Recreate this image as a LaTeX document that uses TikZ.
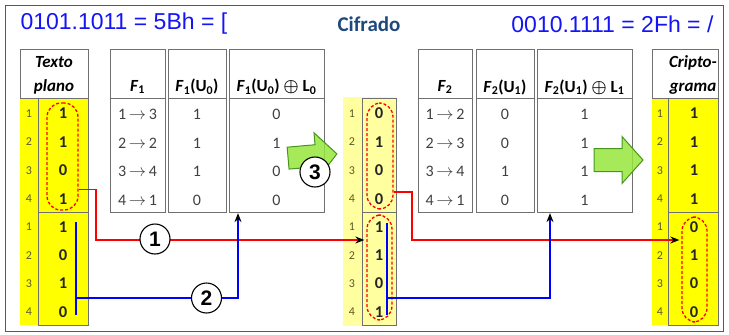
\documentclass[tikz,border=0pt]{standalone}
\usepackage{amsmath}
\usepackage{fontspec}
\setmainfont{Carlito}
\newfontfamily\arialfont{Liberation Sans}
\usetikzlibrary{arrows.meta,calc}

\definecolor{boxgray}{RGB}{112,112,112}
\definecolor{framegray}{RGB}{80,90,110}
\definecolor{brightyellow}{RGB}{255,255,0}
\definecolor{paleyellow}{RGB}{255,255,160}
\definecolor{titleblue}{RGB}{20,20,245}
\definecolor{headblue}{RGB}{31,73,125}
\definecolor{rownum}{RGB}{90,90,40}
\definecolor{valgray}{RGB}{64,64,64}
\definecolor{arrowgreen}{RGB}{150,230,60}
\definecolor{arrowedge}{RGB}{70,150,30}

\begin{document}
\begin{tikzpicture}[x=1pt,y=-1pt,>=Stealth,
    box/.style={draw=boxgray,line width=1.1pt,anchor=north west,inner sep=0pt},
    hdr/.style={font=\fontsize{17}{24}\selectfont\bfseries,align=center,inner sep=0pt},
    val/.style={font=\fontsize{16}{16}\selectfont,text=valgray,inner sep=0pt},
    bval/.style={font=\fontsize{16.5}{16}\selectfont\bfseries,text=black!85,inner sep=0pt},
    rnum/.style={font=\fontsize{12}{12}\selectfont,text=rownum,inner sep=0pt},
    oval/.style={draw=red,line width=1.3pt,dash pattern=on 3pt off 2pt,rounded corners=14pt,inner sep=0pt},
    redln/.style={draw=red,line width=1.4pt},
    blueln/.style={draw=blue,line width=1.4pt},
    tip/.style={-{Stealth[length=9pt,width=7pt,color=black]}},
    numcirc/.style={circle,draw,line width=1.1pt,fill=white,minimum size=30pt,inner sep=0pt,
      font=\arialfont\fontsize{21}{21}\selectfont\bfseries},
    grnarrow/.style={fill=arrowgreen,fill opacity=0.85,draw=arrowedge,line width=1pt,line join=miter}]
  \useasboundingbox (0,0) rectangle (729,335);
  \draw[framegray,line width=0.8pt] (5,5) rectangle (723,331);
  % titles
  \node[anchor=west,text=titleblue,font=\arialfont\fontsize{23}{23}\selectfont] (ttl) at (17,24) {0101.1011 = 5Bh = [};
  \node[anchor=east,text=titleblue,font=\arialfont\fontsize{23}{23}\selectfont] (ttr) at (717,24) {0010.1111 = 2Fh = /};
  \node[text=headblue,font=\fontsize{21}{21}\selectfont\bfseries] (cif) at (369,24) {Cifrado};
  % yellow columns
  \fill[brightyellow] (20,98) rectangle (88,325);
  \fill[paleyellow] (343,97) rectangle (396,326);
  \fill[brightyellow] (652,98) rectangle (718,325);
  \node[box,minimum width=68pt,minimum height=49pt] (tph) at (20,49) {};
  \node[box,fill=brightyellow,minimum width=50pt,minimum height=114pt] (tpt) at (38,98) {};
  \node[box,fill=brightyellow,minimum width=50pt,minimum height=113pt] (tpb) at (38,212) {};
  \node[box,fill=paleyellow,minimum width=34pt,minimum height=114pt] (mdt) at (362,98) {};
  \node[box,fill=paleyellow,minimum width=34pt,minimum height=113pt] (mdb) at (362,212) {};
  \node[box,minimum width=66pt,minimum height=49pt] (crh) at (652,49) {};
  \node[box,fill=brightyellow,minimum width=50pt,minimum height=114pt] (crt) at (668,98) {};
  \node[box,fill=brightyellow,minimum width=50pt,minimum height=113pt] (crb) at (668,212) {};
  % tables F1 and F2
  \foreach \name/\xa/\w in {f1/110/55,f1u/168/58,f1x/229/95,f2/418/54,f2u/476/58,f2x/537/95}{
    \node[box,minimum width=\w pt,minimum height=49pt] (\name h) at (\xa,49) {};
    \node[box,minimum width=\w pt,minimum height=114pt] (\name b) at (\xa,98) {};
  }
  \node[hdr] (tphl) at (54,75) {\itshape Texto\\\itshape plano};
  \node[hdr] (crhl) at (693,75) {\itshape Cripto-\\\itshape grama};
  \node[hdr] (f1l) at (137.5,87) {\textit{F}\textsubscript{1}};
  \node[hdr] (f1ul) at (197,87) {\textit{F}\textsubscript{1}(U\textsubscript{0})};
  \node[hdr] (f1xl) at (276.5,87) {\textit{F}\textsubscript{1}(U\textsubscript{0}) $\boldsymbol{\oplus}$ L\textsubscript{0}};
  \node[hdr] (f2l) at (445,87) {\textit{F}\textsubscript{2}};
  \node[hdr] (f2ul) at (505,87) {\textit{F}\textsubscript{2}(U\textsubscript{1})};
  \node[hdr] (f2xl) at (584.5,87) {\textit{F}\textsubscript{2}(U\textsubscript{1}) $\boldsymbol{\oplus}$ L\textsubscript{1}};
  % row numbers
  \foreach \xr/\c in {29/tp,352/md,660/cr}{
    \foreach \i in {1,...,4}{
      \node[rnum] (\c n\i) at (\xr,{84.75+28.5*\i}) {\i};
      \node[rnum] (\c m\i) at (\xr,{198.875+28.25*\i}) {\i};
    }
  }
  % values
  \foreach \v [count=\i] in {1,1,0,1} \node[bval] (tpv\i) at (63,{84.75+28.5*\i}) {\v};
  \foreach \v [count=\i] in {1,0,1,0} \node[bval] (tpw\i) at (63,{198.875+28.25*\i}) {\v};
  \foreach \v [count=\i] in {0,1,0,0} \node[bval] (mdv\i) at (379,{84.75+28.5*\i}) {\v};
  \foreach \v [count=\i] in {1,1,0,1} \node[bval] (mdw\i) at (379,{198.875+28.25*\i}) {\v};
  \foreach \v [count=\i] in {1,1,1,1} \node[bval] (crv\i) at (694,{84.75+28.5*\i}) {\v};
  \foreach \v [count=\i] in {0,1,0,0} \node[bval] (crw\i) at (694,{198.875+28.25*\i}) {\v};
  \foreach \a/\b [count=\i] in {1/3,2/2,3/4,4/1} \node[val] (f1v\i) at (137.5,{86+28.5*\i}) {\a\,$\rightarrow$\,\b};
  \foreach \v [count=\i] in {1,1,1,0} \node[val] (f1uv\i) at (197,{86+28.5*\i}) {\v};
  \foreach \v [count=\i] in {0,1,0,0} \node[val] (f1xv\i) at (276.5,{86+28.5*\i}) {\v};
  \foreach \a/\b [count=\i] in {1/2,2/3,3/4,4/1} \node[val] (f2v\i) at (445,{86+28.5*\i}) {\a\,$\rightarrow$\,\b};
  \foreach \v [count=\i] in {0,0,1,0} \node[val] (f2uv\i) at (505,{86+28.5*\i}) {\v};
  \foreach \v [count=\i] in {1,1,1,1} \node[val] (f2xv\i) at (584.5,{86+28.5*\i}) {\v};
  % dashed groups
  \node[oval,minimum width=31pt,minimum height=107pt] (tpe) at (62.5,156.5) {};
  \node[oval,minimum width=26pt,minimum height=106pt] (mte) at (380,156) {};
  \node[oval,minimum width=25pt,minimum height=105pt] (mbe) at (379.5,267.5) {};
  \node[oval,minimum width=25pt,minimum height=105pt] (cre) at (694.5,269.5) {};
  % connectors
  \coordinate (r1c) at (96,240);
  \coordinate (r2c) at (412,240);
  \draw[redln,tip] ([yshift=-33pt]tpe.east) -| (r1c) -- ([xshift=-2pt]r1c -| mbe.west);
  \draw[redln,tip] ([yshift=-36pt]mte.east) -| (r2c) -- ([xshift=-2pt]r2c -| cre.west);
  \coordinate (b1t) at (76,222); \coordinate (b1s) at (76,298); \coordinate (b1b) at (76,315);
  \coordinate (b2t) at (387,223); \coordinate (b2s) at (387,298); \coordinate (b2b) at (387,315);
  \draw[blueln] (b1t) -- (b1b);
  \draw[blueln,tip] (b1s) -| ([xshift=9pt]f1xb.south west);
  \draw[blueln] (b2t) -- (b2b);
  \draw[blueln,tip] (b2s) -| ([xshift=13pt]f2xb.south west);
  % green arrows
  \draw[grnarrow,shift={(312.5,156)},rotate=5] (-24.5,-11) -- (3.5,-11) -- (3.5,-23) -- (24.5,0) -- (3.5,23) -- (3.5,11) -- (-24.5,11) -- cycle;
  \draw[grnarrow,shift={(618.5,160)}] (-24.5,-11.5) -- (3.5,-11.5) -- (3.5,-23.5) -- (24.5,0) -- (3.5,23.5) -- (3.5,11.5) -- (-24.5,11.5) -- cycle;
  \node[numcirc] (c1) at (155,239) {1};
  \node[numcirc] (c2) at (206.5,298) {2};
  \node[numcirc] (c3) at (315,172) {3};
\end{tikzpicture}
\end{document}
